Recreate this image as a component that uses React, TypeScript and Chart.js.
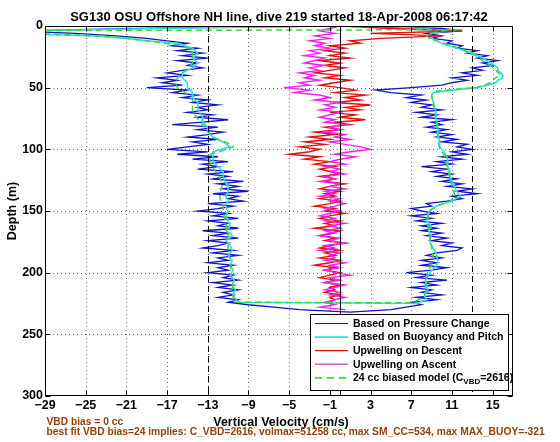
import React, { useEffect, useRef } from "react";
import { Chart, registerables } from "chart.js";

Chart.register(...registerables);

// ---------------- text ----------------
const TITLE = "SG130 OSU Offshore NH line, dive 219 started 18-Apr-2008 06:17:42";
const X_TITLE = "Vertical Velocity (cm/s)";
const Y_TITLE = "Depth (m)";
const NOTE_1 = "VBD bias = 0 cc";
const NOTE_2 = "best fit VBD bias=24 implies: C_VBD=2616, volmax=51258 cc, max SM_CC=534, max MAX_BUOY=-321";

// ---------------- axes ----------------
const X_MIN = -29;
const X_MAX = 17;
const Y_MIN = 0;
const Y_MAX = 300;
const X_TICKS = [-29, -25, -21, -17, -13, -9, -5, -1, 3, 7, 11, 15];
const Y_TICKS = [0, 50, 100, 150, 200, 250, 300];
const REF_SOLID = [0];
const REF_DASHED = [-13, 13];

// ---------------- series labels ----------------
const LABEL_BLUE = "Based on Pressure Change";
const LABEL_CYAN = "Based on Buoyancy and Pitch";
const LABEL_RED = "Upwelling on Descent";
const LABEL_MAG = "Upwelling on Ascent";
const LABEL_GREEN_MAIN = "24 cc biased model (C";
const LABEL_GREEN_SUB = "VBD";
const LABEL_GREEN_END = "=2616)";

// ---------------- data: depth (m) and vertical velocity (cm/s) ----------------
const BLUE_DOWN_DEPTH = [
  0, 2, 4, 6, 8, 10, 12, 14, 16, 18,
  20, 22, 24, 26, 28, 30, 32, 34, 36, 38,
  40, 42, 44, 46, 48, 50, 52, 54, 56, 58,
  60, 62, 64, 66, 68, 70, 72, 74, 76, 78,
  80, 82, 84, 86, 88, 90, 92, 94, 96, 98,
  100, 102, 104, 106, 108, 110, 112, 114, 116, 118,
  120, 122, 124, 126, 128, 130, 132, 134, 136, 138,
  140, 142, 144, 146, 148, 150, 152, 154, 156, 158,
  160, 162, 164, 166, 168, 170, 172, 174, 176, 178,
  180, 182, 184, 186, 188, 190, 192, 194, 196, 198,
  200, 202, 204, 206, 208, 210, 212, 214, 216, 218,
  220, 222, 224, 226, 228, 230, 231, 232,
];
const BLUE_DOWN_VEL = [
  -1, -20, -32, -26, -22, -19, -17, -15, -16.5, -14,
  -16, -13.5, -15.5, -13, -16, -14, -15, -13.5, -15.5, -17,
  -15, -18, -16, -17.5, -15.5, -19, -15, -16.5, -14, -15.5,
  -13, -14.5, -12, -14, -13, -15, -12.5, -14, -11, -13.5,
  -16.5, -12, -14, -11.5, -13, -15, -12, -14.5, -13, -15,
  -17, -13, -16, -12, -14.5, -11, -13.5, -12, -14, -10.5,
  -13, -11, -12.5, -9.5, -12, -10, -11.5, -9, -12.5, -10,
  -11, -9.5, -13, -10.5, -12, -14, -11, -12.5, -10, -13,
  -11, -12, -10, -13.5, -11, -12.5, -10, -13, -11, -12,
  -13.5, -10.5, -12.5, -10, -12, -11, -13, -10.5, -12, -11,
  -13, -10.5, -11.5, -10, -12.5, -10.5, -12, -10, -11.5, -10.5,
  -12, -10, -11, -9, -6.5, -4, -1.5, 1,
];
const BLUE_UP_DEPTH = [
  231, 230, 228, 226, 224, 222, 220, 218, 216, 214, 212,
  210, 208, 206, 204, 202, 200, 198, 196, 194, 192,
  190, 188, 186, 184, 182, 180, 178, 176, 174, 172,
  170, 168, 166, 164, 162, 160, 158, 156, 154, 152,
  150, 148, 146, 144, 142, 140, 138, 136, 134, 132,
  130, 128, 126, 124, 122, 120, 118, 116, 114, 112,
  110, 108, 106, 104, 102, 100, 98, 96, 94, 92,
  90, 88, 86, 84, 82, 80, 78, 76, 74, 72,
  70, 68, 66, 64, 62, 60, 58, 56, 54, 52,
  50, 48, 46, 44, 42, 40, 38, 36, 34, 32,
  30, 28, 26, 24, 22, 20, 18, 16, 14, 12,
  10, 8, 6, 4, 2, 0,
];
const BLUE_UP_VEL = [
  3, 5, 6.5, 8, 7, 9.5, 7.5, 10, 8, 9, 7,
  9.5, 8, 10.5, 7.5, 9, 6.5, 9, 10.5, 8, 9.5,
  8, 10, 8.5, 9.5, 11.5, 12, 10, 11, 9, 10.5,
  8.5, 10, 8, 9.5, 8, 10, 7.5, 9, 7, 9.5,
  8, 7, 9, 8.5, 10.5, 12, 11, 13.5, 11.5, 13,
  10.5, 12, 10, 11.5, 9.5, 11, 9, 10.5, 8, 11,
  9.5, 12, 10, 12.5, 11, 13, 11.5, 12.5, 10, 11.5,
  9.5, 11, 9, 10.5, 8.5, 10, 9, 11, 8, 9.5,
  7.5, 10, 8, 9, 7, 8.5, 6.5, 8, 5, 3.5,
  7, 10, 11, 12.5, 11, 13.5, 12, 14, 13, 15,
  14, 15.5, 13.5, 14.5, 12.5, 13.5, 11.5, 12, 10.5, 11,
  9, 10, 8.5, 12, 10, 1,
];

const CYAN_DEPTH = [
  0, 2, 4, 6, 8, 10, 12, 14, 18, 22,
  26, 30, 34, 38, 42, 46, 50, 54, 58, 62,
  66, 70, 74, 78, 82, 86, 90, 94, 98, 102,
  106, 110, 114, 118, 122, 126, 130, 134, 138, 142,
  146, 150, 154, 158, 162, 166, 170, 174, 178, 182,
  186, 190, 194, 198, 202, 206, 210, 214, 218, 222,
  224, 225, 222, 218, 214, 210, 206, 202, 198, 194,
  190, 186, 182, 178, 174, 170, 166, 162, 158, 154,
  150, 146, 142, 138, 134, 130, 126, 122, 118, 114,
  110, 106, 102, 98, 94, 90, 86, 82, 78, 74,
  70, 66, 62, 58, 56, 54, 52, 50, 48, 46,
  44, 42, 40, 38, 36, 34, 32, 30, 26, 22,
  18, 14, 10, 8, 6, 4, 2, 0,
];
const CYAN_VEL = [
  -2, -18, -31, -33, -24, -21, -19, -16, -14.5, -14,
  -14.5, -14, -14.5, -15.5, -15.5, -15, -15, -14.5, -14.5, -14,
  -14, -13.8, -13.5, -13.5, -13, -13, -12.5, -11.5, -10.8, -12.5,
  -12.5, -12.5, -12, -11.5, -11.5, -11.3, -11, -11, -11.2, -11,
  -11.3, -11, -11.2, -11, -10.8, -11.2, -10.6, -11.2, -10.8, -10.6,
  -11, -10.6, -10.8, -10.5, -10.8, -10.4, -10.6, -10.3, -10.5, -10.2,
  -10, 7.5, 8.5, 8.3, 8.6, 8.5, 8.4, 8.7, 9, 9.5,
  9.6, 9.5, 9.3, 9, 8.8, 9, 8.7, 9, 8.5, 8.6,
  8.8, 9.5, 11, 11.8, 11.5, 11.2, 11, 10.8, 10.8, 10.6,
  10.6, 10.5, 10.2, 9.8, 9.8, 9.7, 9.6, 9.6, 9.5, 9.4,
  9.4, 9.3, 9.2, 9, 9, 9.2, 11, 13.4, 14.5, 15.3,
  15.5, 16, 16, 15.8, 15.5, 15.5, 15.2, 14.8, 14, 13,
  11.5, 10, 9, 8.6, 9, 10.5, 8, 4,
];

const RED_DEPTH = [
  0, 2, 4, 6, 8, 10, 12, 14, 16, 18,
  20, 22, 24, 26, 28, 30, 32, 34, 36, 38,
  40, 42, 44, 46, 48, 50, 52, 54, 56, 58,
  60, 62, 64, 66, 68, 70, 72, 74, 76, 78,
  80, 82, 84, 86, 88, 90, 92, 94, 96, 98,
  100, 102, 104, 106, 108, 110, 112, 114, 116, 118,
  120, 122, 124, 126, 128, 130, 132, 134, 136, 138,
  140, 142, 144, 146, 148, 150, 152, 154, 156, 158,
  160, 162, 164, 166, 168, 170, 172, 174, 176, 178,
  180, 182, 184, 186, 188, 190, 192, 194, 196, 198,
  200, 202, 204, 206, 208, 210, 212, 214, 216, 218,
  220, 222, 224,
];
const RED_VEL = [
  0, 5, 12, 3, 10, 4, 1, 2, -1, 0.5,
  -1.5, 0.5, -1, 1, -2, 0, -1.5, 0.5, -1, -2.5,
  0, -1.5, 1, -0.5, -2, 0, 1.5, -0.5, 2.5, 0.5,
  2, -0.5, 3, 0.5, 2, -1, 1.5, 0, 2.5, -0.5,
  1, -1.5, 0, -2.5, -0.5, -3, -1, -3.5, -1.5, -4,
  -2, -3, -5, -2, -3.5, -1, -2.5, -0.5, -2, -1,
  0, -2, -0.5, -1.5, 0.5, -1, -2, 0, -1.5, -0.5,
  -2, 0, -1, -2.5, -0.5, -1.5, 0.5, -1, -2, 0,
  -1.5, -0.5, -2.5, 0, -1, -2, -0.5, -1.5, 0.5, -1,
  -2, 0, -1.5, -0.5, -2, 0, -1, -2.5, -0.5, -1.5,
  0, -1, -2, -0.5, -1.5, 0, -1, -0.5, -1.5, 0,
  -1, -0.5, -1,
];

const MAG_DEPTH = [
  0, 2, 4, 6, 8, 10, 12, 14, 16, 18,
  20, 22, 24, 26, 28, 30, 32, 34, 36, 38,
  40, 42, 44, 46, 48, 50, 52, 54, 56, 58,
  60, 62, 64, 66, 68, 70, 72, 74, 76, 78,
  80, 82, 84, 86, 88, 90, 92, 94, 96, 98,
  100, 102, 104, 106, 108, 110, 112, 114, 116, 118,
  120, 122, 124, 126, 128, 130, 132, 134, 136, 138,
  140, 142, 144, 146, 148, 150, 152, 154, 156, 158,
  160, 162, 164, 166, 168, 170, 172, 174, 176, 178,
  180, 182, 184, 186, 188, 190, 192, 194, 196, 198,
  200, 202, 204, 206, 208, 210, 212, 214, 216, 218,
  220, 222, 224, 226, 228, 230,
];
const MAG_VEL = [
  0, -1, -2, -0.5, -2.5, -1, -3, -1.5, -2.5, -1,
  -3, -2, -3.5, -1.5, -2.5, -3.5, -1.5, -3, -2, -4,
  -2.5, -3.5, -2, -4, -3, -5.5, -3, -4.5, -2, -1,
  -2.5, 0, -1.5, -0.5, -2, 0, -1, -2, -0.5, -1.5,
  0.5, -1, 0, -1.5, 0.5, -0.5, 1, -1, 0.5, 2,
  3, 1, -0.5, 1.5, 0, -1, 0.5, -1.5, 0, -1,
  0.5, -1.5, -0.5, -2, 0, -1, 0.5, -1.5, -0.5, -2,
  0, -1, 0.5, -0.5, -1.5, 0, -1, -2, -0.5, -1.5,
  0.5, -1, 0, -1.5, -0.5, -2, 0, -1, 0.5, -1.5,
  -0.5, -2, 0, -1, -0.5, -1.5, 0.5, -1, 0, -1.5,
  -0.5, 1, -1, 0, -1.5, 0.5, -0.5, -1.5, 0, -1,
  0.5, -0.5, -1.5, -0.5, -2, 0.5,
];

const GREEN_DEPTH = [
  3, 3.5, 4, 5, 7, 9, 12, 16, 20, 25,
  30, 35, 40, 45, 50, 55, 60, 65, 70, 75,
  80, 85, 90, 95, 98, 101, 104, 110, 115, 120,
  125, 130, 135, 140, 145, 150, 160, 170, 180, 190,
  200, 210, 220, 224, 224.5, 220, 210, 200, 190, 180,
  170, 160, 150, 146, 142, 138, 130, 120, 110, 104,
  100, 90, 80, 70, 60, 56, 53, 52, 50, 48,
  46, 42, 40, 36, 32, 28, 24, 20, 16, 12,
  10, 8, 6, 4, 3,
];
const GREEN_VEL = [
  12, -20, -35, -35, -27, -22, -19, -15.5, -14.5, -14.5,
  -14.5, -15, -15.8, -16.2, -16, -15, -14.5, -14.5, -14.5, -14,
  -13.5, -13, -12.5, -11, -10.5, -11.5, -12.8, -12.8, -12.5, -12,
  -11.7, -11.6, -11.8, -11.8, -11.5, -11.5, -11.2, -11, -11, -10.8,
  -10.7, -10.6, -10.5, -10.4, 7, 8.3, 8.4, 8.6, 9.2, 9,
  8.8, 8.6, 8.7, 9.5, 10.8, 11.3, 11, 10.7, 10.4, 10.2,
  9.8, 9.6, 9.5, 9.3, 9.1, 9, 9.3, 10.5, 13.4, 14.2,
  14.8, 15.3, 15.8, 15.3, 14.8, 14, 13.3, 12.3, 11, 9.5,
  8.8, 8.5, 8.8, 10, 12,
];

// ---------------- styling ----------------
const FONT_FAMILY = "'Liberation Sans', Arial, Helvetica, sans-serif";
const BLUE = "#1212c8";
const CYAN = "#2fe0e0";
const RED = "#e01010";
const MAGENTA = "#ee22ee";
const GREEN = "#3ad83a";
const NOTE_COLOR = "#94400e";

const pts = (vel: number[], dep: number[]) => vel.map((v, i) => ({ x: v, y: dep[i] }));

const fmtTick = (v: number) => (v < 0 ? "\u2212" + Math.abs(v) : String(v));

const LEGEND_ITEMS = [
  { color: BLUE, dash: [] as number[], width: 1.2 },
  { color: CYAN, dash: [] as number[], width: 1.6 },
  { color: RED, dash: [] as number[], width: 1.2 },
  { color: "#cc66cc", dash: [] as number[], width: 1.6 },
  { color: GREEN, dash: [7, 5], width: 1.6 },
];

const decor = {
  id: "decor",
  beforeDatasetsDraw(chart: any) {
    const { ctx, chartArea: a, scales } = chart;
    const x = scales.x;
    const y = scales.y;
    ctx.save();
    ctx.strokeStyle = "rgba(60,60,60,0.75)";
    ctx.lineWidth = 1;
    ctx.setLineDash([1, 3]);
    for (const t of X_TICKS) {
      const px = Math.round(x.getPixelForValue(t)) + 0.5;
      if (px <= a.left + 1 || px >= a.right - 1) continue;
      ctx.beginPath();
      ctx.moveTo(px, a.top);
      ctx.lineTo(px, a.bottom);
      ctx.stroke();
    }
    for (const t of Y_TICKS) {
      const py = Math.round(y.getPixelForValue(t)) + 0.5;
      if (py <= a.top + 1 || py >= a.bottom - 1) continue;
      ctx.beginPath();
      ctx.moveTo(a.left, py);
      ctx.lineTo(a.right, py);
      ctx.stroke();
    }
    ctx.restore();
  },
  afterDatasetsDraw(chart: any) {
    const { ctx, chartArea: a, scales } = chart;
    const x = scales.x;
    const y = scales.y;
    ctx.save();
    ctx.strokeStyle = "#000";
    ctx.lineWidth = 1;
    for (const v of REF_SOLID) {
      const px = Math.round(x.getPixelForValue(v)) + 0.5;
      ctx.setLineDash([]);
      ctx.beginPath();
      ctx.moveTo(px, a.top);
      ctx.lineTo(px, a.bottom);
      ctx.stroke();
    }
    for (const v of REF_DASHED) {
      const px = Math.round(x.getPixelForValue(v)) + 0.5;
      ctx.setLineDash([6, 4]);
      ctx.beginPath();
      ctx.moveTo(px, a.top);
      ctx.lineTo(px, a.bottom);
      ctx.stroke();
    }
    ctx.setLineDash([]);
    const L = Math.round(a.left) + 0.5;
    const R = Math.round(a.right) - 0.5;
    const T = Math.round(a.top) + 0.5;
    const B = Math.round(a.bottom) - 0.5;
    ctx.strokeRect(L, T, R - L, B - T);
    const tl = 5;
    for (const t of X_TICKS) {
      const px = Math.round(x.getPixelForValue(t)) + 0.5;
      ctx.beginPath();
      ctx.moveTo(px, B);
      ctx.lineTo(px, B - tl);
      ctx.moveTo(px, T);
      ctx.lineTo(px, T + tl);
      ctx.stroke();
    }
    for (const t of Y_TICKS) {
      const py = Math.round(y.getPixelForValue(t)) + 0.5;
      ctx.beginPath();
      ctx.moveTo(L, py);
      ctx.lineTo(L + tl, py);
      ctx.moveTo(R, py);
      ctx.lineTo(R - tl, py);
      ctx.stroke();
    }
    // legend
    const bx = 310.5;
    const by = 314.5;
    const bw = 198;
    const bh = 76;
    ctx.fillStyle = "#fff";
    ctx.fillRect(bx, by, bw, bh);
    ctx.strokeStyle = "#000";
    ctx.strokeRect(bx, by, bw, bh);
    const labels = chart.data.datasets.map((d: any) => d.label);
    ctx.font = `bold 10.5px ${FONT_FAMILY}`;
    ctx.textBaseline = "middle";
    ctx.textAlign = "left";
    for (let i = 0; i < LEGEND_ITEMS.length; i++) {
      const it = LEGEND_ITEMS[i];
      const ry = 323.5 + i * 13.6;
      ctx.strokeStyle = it.color;
      ctx.lineWidth = it.width;
      ctx.setLineDash(it.dash);
      ctx.beginPath();
      ctx.moveTo(315, ry);
      ctx.lineTo(348, ry);
      ctx.stroke();
      ctx.setLineDash([]);
      ctx.fillStyle = "#000";
      if (i < 4) {
        ctx.fillText(labels[i], 353, ry + 0.5);
      } else {
        ctx.font = `bold 10.5px ${FONT_FAMILY}`;
        ctx.fillText(LABEL_GREEN_MAIN, 353, ry + 0.5);
        let cx = 353 + ctx.measureText(LABEL_GREEN_MAIN).width;
        ctx.font = `bold 8px ${FONT_FAMILY}`;
        ctx.fillText(LABEL_GREEN_SUB, cx, ry + 4);
        cx += ctx.measureText(LABEL_GREEN_SUB).width;
        ctx.font = `bold 10.5px ${FONT_FAMILY}`;
        ctx.fillText(LABEL_GREEN_END, cx, ry + 0.5);
      }
    }
    ctx.restore();
  },
  afterDraw(chart: any) {
    const { ctx, chartArea: a } = chart;
    const cx = (a.left + a.right) / 2;
    ctx.save();
    ctx.fillStyle = "#000";
    ctx.textBaseline = "alphabetic";
    ctx.textAlign = "center";
    ctx.font = `bold 13px ${FONT_FAMILY}`;
    ctx.fillText(TITLE, cx, 20.5);
    ctx.font = `bold 12.5px ${FONT_FAMILY}`;
    ctx.fillText(X_TITLE, cx + 2, 426);
    ctx.save();
    ctx.translate(13, (a.top + a.bottom) / 2);
    ctx.rotate(-Math.PI / 2);
    ctx.textBaseline = "middle";
    ctx.fillText(Y_TITLE, 0, 0);
    ctx.restore();
    ctx.textAlign = "left";
    ctx.fillStyle = NOTE_COLOR;
    ctx.font = `bold 10.25px ${FONT_FAMILY}`;
    ctx.fillText(NOTE_1, 46.5, 424.5);
    ctx.fillText(NOTE_2, 46.5, 435);
    ctx.restore();
  },
};

export default function App() {
  const ref = useRef<HTMLCanvasElement | null>(null);
  useEffect(() => {
    if (!ref.current) return;
    const tickFont = { family: FONT_FAMILY, size: 12.5, weight: "bold" as const };
    const chart = new Chart(ref.current, {
      type: "scatter",
      data: {
        datasets: [
          {
            label: LABEL_BLUE,
            data: [...pts(BLUE_DOWN_VEL, BLUE_DOWN_DEPTH), ...pts(BLUE_UP_VEL, BLUE_UP_DEPTH)],
            borderColor: BLUE,
            borderWidth: 1.3,
            showLine: true,
            pointRadius: 0,
            order: 5,
          },
          {
            label: LABEL_CYAN,
            data: pts(CYAN_VEL, CYAN_DEPTH),
            borderColor: CYAN,
            borderWidth: 1.6,
            showLine: true,
            pointRadius: 0,
            order: 4,
          },
          {
            label: LABEL_RED,
            data: pts(RED_VEL, RED_DEPTH),
            borderColor: RED,
            borderWidth: 1.4,
            showLine: true,
            pointRadius: 0,
            order: 3,
          },
          {
            label: LABEL_MAG,
            data: pts(MAG_VEL, MAG_DEPTH),
            borderColor: MAGENTA,
            borderWidth: 1.4,
            showLine: true,
            pointRadius: 0,
            order: 2,
          },
          {
            label: LABEL_GREEN_MAIN + LABEL_GREEN_SUB + LABEL_GREEN_END,
            data: pts(GREEN_VEL, GREEN_DEPTH),
            borderColor: GREEN,
            borderWidth: 1.5,
            borderDash: [6, 4],
            showLine: true,
            pointRadius: 0,
            order: 1,
          },
        ],
      },
      options: {
        animation: false,
        responsive: false,
        events: [],
        layout: { padding: { left: 0, top: 26, right: 47, bottom: 0 } },
        plugins: {
          legend: { display: false },
          title: { display: false },
          tooltip: { enabled: false },
        },
        scales: {
          x: {
            type: "linear",
            min: X_MIN,
            max: X_MAX,
            afterBuildTicks: (s: any) => {
              s.ticks = X_TICKS.map((v) => ({ value: v }));
            },
            afterFit: (s: any) => {
              s.height = 46;
              s.paddingLeft = 0;
              s.paddingRight = 0;
            },
            grid: { display: false, drawTicks: false, tickLength: 0 },
            border: { display: false },
            ticks: {
              font: tickFont,
              color: "#000",
              padding: 2,
              maxRotation: 0,
              autoSkip: false,
              callback: (v: any) => fmtTick(Number(v)),
            },
          },
          y: {
            type: "linear",
            reverse: true,
            min: Y_MIN,
            max: Y_MAX,
            afterBuildTicks: (s: any) => {
              s.ticks = Y_TICKS.map((v) => ({ value: v }));
            },
            afterFit: (s: any) => {
              s.width = 45;
              s.paddingTop = 0;
              s.paddingBottom = 0;
            },
            grid: { display: false, drawTicks: false, tickLength: 0 },
            border: { display: false },
            ticks: {
              font: tickFont,
              color: "#000",
              padding: 2,
              autoSkip: false,
              callback: (v: any) => fmtTick(Number(v)),
            },
          },
        },
      },
      plugins: [decor],
    });
    return () => chart.destroy();
  }, []);
  return (
    <div style={{ position: "absolute", left: 0, top: 0, width: 560, height: 442, background: "#fff" }}>
      <canvas ref={ref} width={560} height={442} />
    </div>
  );
}
